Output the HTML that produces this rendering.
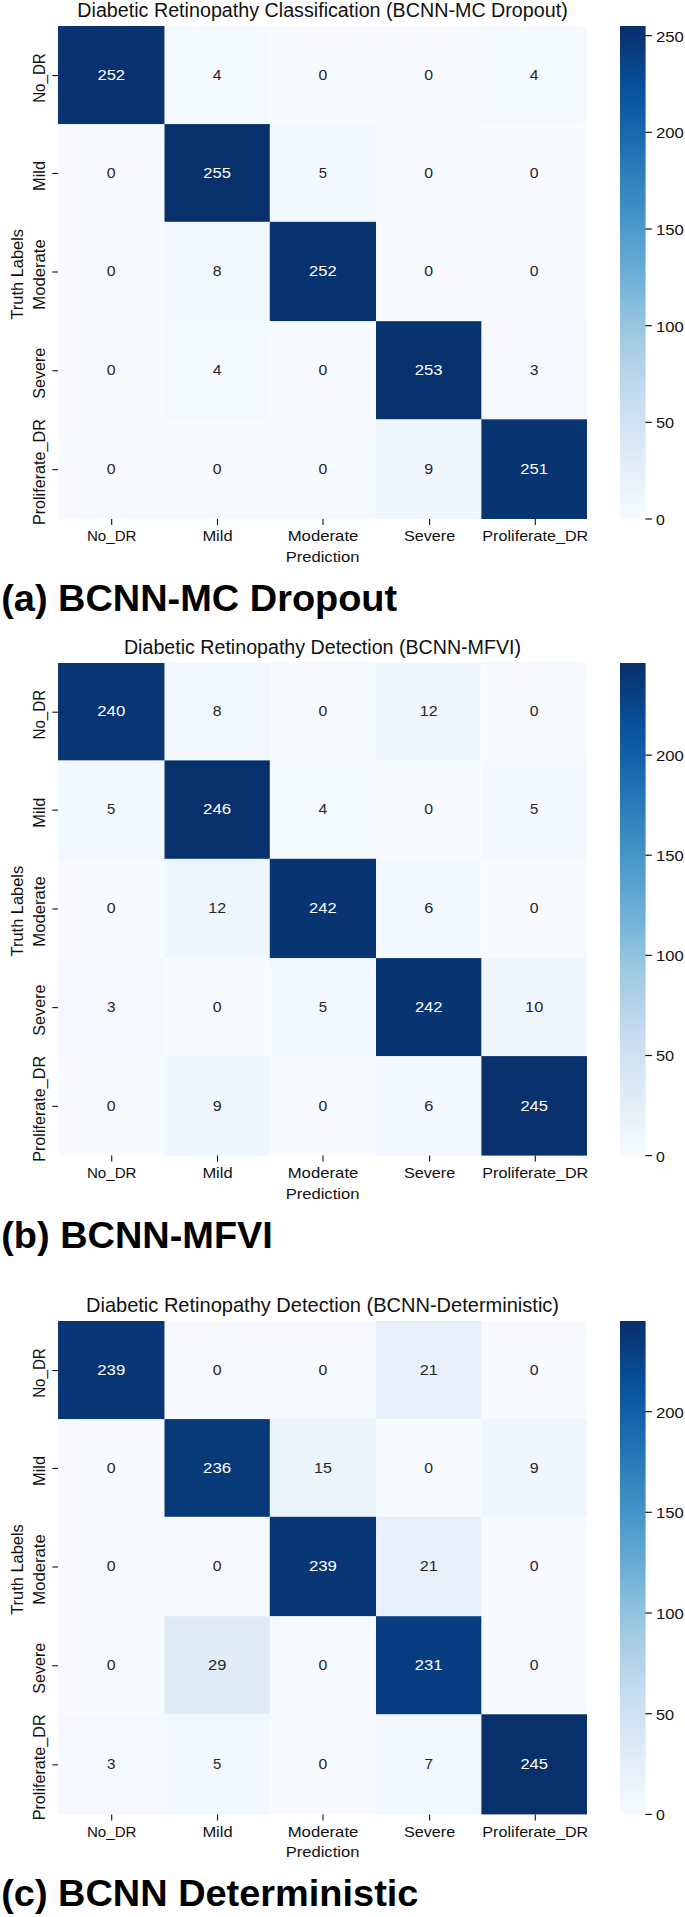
<!DOCTYPE html>
<html><head><meta charset="utf-8"><title>Confusion matrices</title>
<style>html,body{margin:0;padding:0;background:#fff;width:685px;height:1917px;overflow:hidden}svg{display:block}text{font-family:"Liberation Sans", sans-serif}</style>
</head><body>
<svg width="685" height="1917" viewBox="0 0 685 1917" font-family='"Liberation Sans", sans-serif'>
<defs><linearGradient id="cb0" x1="0" y1="0" x2="0" y2="1"><stop offset="0.0000" stop-color="#08306b"/><stop offset="0.0156" stop-color="#083370"/><stop offset="0.0312" stop-color="#083776"/><stop offset="0.0469" stop-color="#083b7c"/><stop offset="0.0625" stop-color="#084082"/><stop offset="0.0781" stop-color="#084488"/><stop offset="0.0938" stop-color="#08488e"/><stop offset="0.1094" stop-color="#084c95"/><stop offset="0.1250" stop-color="#08509b"/><stop offset="0.1406" stop-color="#0a549e"/><stop offset="0.1562" stop-color="#0e58a2"/><stop offset="0.1719" stop-color="#115ca5"/><stop offset="0.1875" stop-color="#1460a8"/><stop offset="0.2031" stop-color="#1764ab"/><stop offset="0.2188" stop-color="#1a68ae"/><stop offset="0.2344" stop-color="#1d6cb1"/><stop offset="0.2500" stop-color="#2070b4"/><stop offset="0.2656" stop-color="#2474b7"/><stop offset="0.2812" stop-color="#2979b9"/><stop offset="0.2969" stop-color="#2d7dbb"/><stop offset="0.3125" stop-color="#3181bd"/><stop offset="0.3281" stop-color="#3585bf"/><stop offset="0.3438" stop-color="#3989c1"/><stop offset="0.3594" stop-color="#3d8dc4"/><stop offset="0.3750" stop-color="#4191c6"/><stop offset="0.3906" stop-color="#4695c8"/><stop offset="0.4062" stop-color="#4b98ca"/><stop offset="0.4219" stop-color="#519ccc"/><stop offset="0.4375" stop-color="#56a0ce"/><stop offset="0.4531" stop-color="#5ba3d0"/><stop offset="0.4688" stop-color="#60a7d2"/><stop offset="0.4844" stop-color="#65aad4"/><stop offset="0.5000" stop-color="#6aaed6"/><stop offset="0.5156" stop-color="#71b1d7"/><stop offset="0.5312" stop-color="#77b5d9"/><stop offset="0.5469" stop-color="#7db8da"/><stop offset="0.5625" stop-color="#84bcdb"/><stop offset="0.5781" stop-color="#8abfdd"/><stop offset="0.5938" stop-color="#91c3de"/><stop offset="0.6094" stop-color="#97c6df"/><stop offset="0.6250" stop-color="#9dcae1"/><stop offset="0.6406" stop-color="#a3cce3"/><stop offset="0.6562" stop-color="#a8cee4"/><stop offset="0.6719" stop-color="#add0e6"/><stop offset="0.6875" stop-color="#b2d2e8"/><stop offset="0.7031" stop-color="#b7d4ea"/><stop offset="0.7188" stop-color="#bcd7eb"/><stop offset="0.7344" stop-color="#c1d9ed"/><stop offset="0.7500" stop-color="#c6dbef"/><stop offset="0.7656" stop-color="#c9ddf0"/><stop offset="0.7812" stop-color="#ccdff1"/><stop offset="0.7969" stop-color="#cfe1f2"/><stop offset="0.8125" stop-color="#d2e3f3"/><stop offset="0.8281" stop-color="#d5e5f4"/><stop offset="0.8438" stop-color="#d8e7f5"/><stop offset="0.8594" stop-color="#dbe9f6"/><stop offset="0.8750" stop-color="#deebf7"/><stop offset="0.8906" stop-color="#e1edf8"/><stop offset="0.9062" stop-color="#e4eff9"/><stop offset="0.9219" stop-color="#e7f1fa"/><stop offset="0.9375" stop-color="#eaf3fb"/><stop offset="0.9531" stop-color="#eef5fc"/><stop offset="0.9688" stop-color="#f1f7fd"/><stop offset="0.9844" stop-color="#f4f9fe"/><stop offset="1.0000" stop-color="#f7fbff"/></linearGradient><linearGradient id="cb1" x1="0" y1="0" x2="0" y2="1"><stop offset="0.0000" stop-color="#08306b"/><stop offset="0.0156" stop-color="#083370"/><stop offset="0.0312" stop-color="#083776"/><stop offset="0.0469" stop-color="#083b7c"/><stop offset="0.0625" stop-color="#084082"/><stop offset="0.0781" stop-color="#084488"/><stop offset="0.0938" stop-color="#08488e"/><stop offset="0.1094" stop-color="#084c95"/><stop offset="0.1250" stop-color="#08509b"/><stop offset="0.1406" stop-color="#0a549e"/><stop offset="0.1562" stop-color="#0e58a2"/><stop offset="0.1719" stop-color="#115ca5"/><stop offset="0.1875" stop-color="#1460a8"/><stop offset="0.2031" stop-color="#1764ab"/><stop offset="0.2188" stop-color="#1a68ae"/><stop offset="0.2344" stop-color="#1d6cb1"/><stop offset="0.2500" stop-color="#2070b4"/><stop offset="0.2656" stop-color="#2474b7"/><stop offset="0.2812" stop-color="#2979b9"/><stop offset="0.2969" stop-color="#2d7dbb"/><stop offset="0.3125" stop-color="#3181bd"/><stop offset="0.3281" stop-color="#3585bf"/><stop offset="0.3438" stop-color="#3989c1"/><stop offset="0.3594" stop-color="#3d8dc4"/><stop offset="0.3750" stop-color="#4191c6"/><stop offset="0.3906" stop-color="#4695c8"/><stop offset="0.4062" stop-color="#4b98ca"/><stop offset="0.4219" stop-color="#519ccc"/><stop offset="0.4375" stop-color="#56a0ce"/><stop offset="0.4531" stop-color="#5ba3d0"/><stop offset="0.4688" stop-color="#60a7d2"/><stop offset="0.4844" stop-color="#65aad4"/><stop offset="0.5000" stop-color="#6aaed6"/><stop offset="0.5156" stop-color="#71b1d7"/><stop offset="0.5312" stop-color="#77b5d9"/><stop offset="0.5469" stop-color="#7db8da"/><stop offset="0.5625" stop-color="#84bcdb"/><stop offset="0.5781" stop-color="#8abfdd"/><stop offset="0.5938" stop-color="#91c3de"/><stop offset="0.6094" stop-color="#97c6df"/><stop offset="0.6250" stop-color="#9dcae1"/><stop offset="0.6406" stop-color="#a3cce3"/><stop offset="0.6562" stop-color="#a8cee4"/><stop offset="0.6719" stop-color="#add0e6"/><stop offset="0.6875" stop-color="#b2d2e8"/><stop offset="0.7031" stop-color="#b7d4ea"/><stop offset="0.7188" stop-color="#bcd7eb"/><stop offset="0.7344" stop-color="#c1d9ed"/><stop offset="0.7500" stop-color="#c6dbef"/><stop offset="0.7656" stop-color="#c9ddf0"/><stop offset="0.7812" stop-color="#ccdff1"/><stop offset="0.7969" stop-color="#cfe1f2"/><stop offset="0.8125" stop-color="#d2e3f3"/><stop offset="0.8281" stop-color="#d5e5f4"/><stop offset="0.8438" stop-color="#d8e7f5"/><stop offset="0.8594" stop-color="#dbe9f6"/><stop offset="0.8750" stop-color="#deebf7"/><stop offset="0.8906" stop-color="#e1edf8"/><stop offset="0.9062" stop-color="#e4eff9"/><stop offset="0.9219" stop-color="#e7f1fa"/><stop offset="0.9375" stop-color="#eaf3fb"/><stop offset="0.9531" stop-color="#eef5fc"/><stop offset="0.9688" stop-color="#f1f7fd"/><stop offset="0.9844" stop-color="#f4f9fe"/><stop offset="1.0000" stop-color="#f7fbff"/></linearGradient><linearGradient id="cb2" x1="0" y1="0" x2="0" y2="1"><stop offset="0.0000" stop-color="#08306b"/><stop offset="0.0156" stop-color="#083370"/><stop offset="0.0312" stop-color="#083776"/><stop offset="0.0469" stop-color="#083b7c"/><stop offset="0.0625" stop-color="#084082"/><stop offset="0.0781" stop-color="#084488"/><stop offset="0.0938" stop-color="#08488e"/><stop offset="0.1094" stop-color="#084c95"/><stop offset="0.1250" stop-color="#08509b"/><stop offset="0.1406" stop-color="#0a549e"/><stop offset="0.1562" stop-color="#0e58a2"/><stop offset="0.1719" stop-color="#115ca5"/><stop offset="0.1875" stop-color="#1460a8"/><stop offset="0.2031" stop-color="#1764ab"/><stop offset="0.2188" stop-color="#1a68ae"/><stop offset="0.2344" stop-color="#1d6cb1"/><stop offset="0.2500" stop-color="#2070b4"/><stop offset="0.2656" stop-color="#2474b7"/><stop offset="0.2812" stop-color="#2979b9"/><stop offset="0.2969" stop-color="#2d7dbb"/><stop offset="0.3125" stop-color="#3181bd"/><stop offset="0.3281" stop-color="#3585bf"/><stop offset="0.3438" stop-color="#3989c1"/><stop offset="0.3594" stop-color="#3d8dc4"/><stop offset="0.3750" stop-color="#4191c6"/><stop offset="0.3906" stop-color="#4695c8"/><stop offset="0.4062" stop-color="#4b98ca"/><stop offset="0.4219" stop-color="#519ccc"/><stop offset="0.4375" stop-color="#56a0ce"/><stop offset="0.4531" stop-color="#5ba3d0"/><stop offset="0.4688" stop-color="#60a7d2"/><stop offset="0.4844" stop-color="#65aad4"/><stop offset="0.5000" stop-color="#6aaed6"/><stop offset="0.5156" stop-color="#71b1d7"/><stop offset="0.5312" stop-color="#77b5d9"/><stop offset="0.5469" stop-color="#7db8da"/><stop offset="0.5625" stop-color="#84bcdb"/><stop offset="0.5781" stop-color="#8abfdd"/><stop offset="0.5938" stop-color="#91c3de"/><stop offset="0.6094" stop-color="#97c6df"/><stop offset="0.6250" stop-color="#9dcae1"/><stop offset="0.6406" stop-color="#a3cce3"/><stop offset="0.6562" stop-color="#a8cee4"/><stop offset="0.6719" stop-color="#add0e6"/><stop offset="0.6875" stop-color="#b2d2e8"/><stop offset="0.7031" stop-color="#b7d4ea"/><stop offset="0.7188" stop-color="#bcd7eb"/><stop offset="0.7344" stop-color="#c1d9ed"/><stop offset="0.7500" stop-color="#c6dbef"/><stop offset="0.7656" stop-color="#c9ddf0"/><stop offset="0.7812" stop-color="#ccdff1"/><stop offset="0.7969" stop-color="#cfe1f2"/><stop offset="0.8125" stop-color="#d2e3f3"/><stop offset="0.8281" stop-color="#d5e5f4"/><stop offset="0.8438" stop-color="#d8e7f5"/><stop offset="0.8594" stop-color="#dbe9f6"/><stop offset="0.8750" stop-color="#deebf7"/><stop offset="0.8906" stop-color="#e1edf8"/><stop offset="0.9062" stop-color="#e4eff9"/><stop offset="0.9219" stop-color="#e7f1fa"/><stop offset="0.9375" stop-color="#eaf3fb"/><stop offset="0.9531" stop-color="#eef5fc"/><stop offset="0.9688" stop-color="#f1f7fd"/><stop offset="0.9844" stop-color="#f4f9fe"/><stop offset="1.0000" stop-color="#f7fbff"/></linearGradient></defs>
<rect width="685" height="1917" fill="#fff"/>
<text transform="translate(322.50,16.90) scale(1.0188,1)" text-anchor="middle" font-size="19.35" fill="#111111">Diabetic Retinopathy Classification (BCNN-MC Dropout)</text>
<rect x="58.00" y="26.00" width="106.90" height="98.50" fill="#083370"/>
<rect x="164.50" y="26.00" width="105.70" height="98.50" fill="#f4f9fe"/>
<rect x="269.80" y="26.00" width="106.60" height="98.50" fill="#f7fbff"/>
<rect x="376.00" y="26.00" width="105.80" height="98.50" fill="#f7fbff"/>
<rect x="481.40" y="26.00" width="105.60" height="98.50" fill="#f4f9fe"/>
<rect x="58.00" y="124.10" width="106.90" height="98.10" fill="#f7fbff"/>
<rect x="164.50" y="124.10" width="105.70" height="98.10" fill="#08306b"/>
<rect x="269.80" y="124.10" width="106.60" height="98.10" fill="#f3f8fe"/>
<rect x="376.00" y="124.10" width="105.80" height="98.10" fill="#f7fbff"/>
<rect x="481.40" y="124.10" width="105.60" height="98.10" fill="#f7fbff"/>
<rect x="58.00" y="221.80" width="106.90" height="99.80" fill="#f7fbff"/>
<rect x="164.50" y="221.80" width="105.70" height="99.80" fill="#f1f7fd"/>
<rect x="269.80" y="221.80" width="106.60" height="99.80" fill="#083370"/>
<rect x="376.00" y="221.80" width="105.80" height="99.80" fill="#f7fbff"/>
<rect x="481.40" y="221.80" width="105.60" height="99.80" fill="#f7fbff"/>
<rect x="58.00" y="321.20" width="106.90" height="98.50" fill="#f7fbff"/>
<rect x="164.50" y="321.20" width="105.70" height="98.50" fill="#f4f9fe"/>
<rect x="269.80" y="321.20" width="106.60" height="98.50" fill="#f7fbff"/>
<rect x="376.00" y="321.20" width="105.80" height="98.50" fill="#08326e"/>
<rect x="481.40" y="321.20" width="105.60" height="98.50" fill="#f5f9fe"/>
<rect x="58.00" y="419.30" width="106.90" height="99.70" fill="#f7fbff"/>
<rect x="164.50" y="419.30" width="105.70" height="99.70" fill="#f7fbff"/>
<rect x="269.80" y="419.30" width="106.60" height="99.70" fill="#f7fbff"/>
<rect x="376.00" y="419.30" width="105.80" height="99.70" fill="#f0f6fd"/>
<rect x="481.40" y="419.30" width="105.60" height="99.70" fill="#083471"/>
<text transform="translate(111.25,79.70) scale(1.0763,1)" text-anchor="middle" font-size="15.35" fill="#ffffff">252</text>
<text transform="translate(217.15,79.70) scale(1.0291,1)" text-anchor="middle" font-size="15.35" fill="#262626">4</text>
<text transform="translate(322.90,79.70) scale(1.0322,1)" text-anchor="middle" font-size="15.35" fill="#262626">0</text>
<text transform="translate(428.70,79.70) scale(1.0322,1)" text-anchor="middle" font-size="15.35" fill="#262626">0</text>
<text transform="translate(534.20,79.70) scale(1.0291,1)" text-anchor="middle" font-size="15.35" fill="#262626">4</text>
<text transform="translate(111.25,177.60) scale(1.0322,1)" text-anchor="middle" font-size="15.35" fill="#262626">0</text>
<text transform="translate(217.15,177.60) scale(1.0787,1)" text-anchor="middle" font-size="15.35" fill="#ffffff">255</text>
<text transform="translate(322.90,177.60) scale(0.9709,1)" text-anchor="middle" font-size="15.35" fill="#262626">5</text>
<text transform="translate(428.70,177.60) scale(1.0322,1)" text-anchor="middle" font-size="15.35" fill="#262626">0</text>
<text transform="translate(534.20,177.60) scale(1.0322,1)" text-anchor="middle" font-size="15.35" fill="#262626">0</text>
<text transform="translate(111.25,276.15) scale(1.0322,1)" text-anchor="middle" font-size="15.35" fill="#262626">0</text>
<text transform="translate(217.15,276.15) scale(1.0328,1)" text-anchor="middle" font-size="15.35" fill="#262626">8</text>
<text transform="translate(322.90,276.15) scale(1.0763,1)" text-anchor="middle" font-size="15.35" fill="#ffffff">252</text>
<text transform="translate(428.70,276.15) scale(1.0322,1)" text-anchor="middle" font-size="15.35" fill="#262626">0</text>
<text transform="translate(534.20,276.15) scale(1.0322,1)" text-anchor="middle" font-size="15.35" fill="#262626">0</text>
<text transform="translate(111.25,374.90) scale(1.0322,1)" text-anchor="middle" font-size="15.35" fill="#262626">0</text>
<text transform="translate(217.15,374.90) scale(1.0291,1)" text-anchor="middle" font-size="15.35" fill="#262626">4</text>
<text transform="translate(322.90,374.90) scale(1.0322,1)" text-anchor="middle" font-size="15.35" fill="#262626">0</text>
<text transform="translate(428.70,374.90) scale(1.0853,1)" text-anchor="middle" font-size="15.35" fill="#ffffff">253</text>
<text transform="translate(534.20,374.90) scale(0.9915,1)" text-anchor="middle" font-size="15.35" fill="#262626">3</text>
<text transform="translate(111.25,473.80) scale(1.0322,1)" text-anchor="middle" font-size="15.35" fill="#262626">0</text>
<text transform="translate(217.15,473.80) scale(1.0322,1)" text-anchor="middle" font-size="15.35" fill="#262626">0</text>
<text transform="translate(322.90,473.80) scale(1.0322,1)" text-anchor="middle" font-size="15.35" fill="#262626">0</text>
<text transform="translate(428.70,473.80) scale(1.0440,1)" text-anchor="middle" font-size="15.35" fill="#262626">9</text>
<text transform="translate(534.20,473.80) scale(1.0825,1)" text-anchor="middle" font-size="15.35" fill="#ffffff">251</text>
<line x1="52.3" y1="75.55" x2="58" y2="75.55" stroke="#111111" stroke-width="1.1"/>
<text transform="translate(45.30,78.05) rotate(-90) scale(0.9569,1)" text-anchor="middle" font-size="15.79" fill="#111111">No_DR</text>
<line x1="52.3" y1="173.45" x2="58" y2="173.45" stroke="#111111" stroke-width="1.1"/>
<text transform="translate(45.30,175.95) rotate(-90) scale(1.0442,1)" text-anchor="middle" font-size="15.79" fill="#111111">Mild</text>
<line x1="52.3" y1="272.00" x2="58" y2="272.00" stroke="#111111" stroke-width="1.1"/>
<text transform="translate(45.30,274.50) rotate(-90) scale(1.0584,1)" text-anchor="middle" font-size="15.79" fill="#111111">Moderate</text>
<line x1="52.3" y1="370.75" x2="58" y2="370.75" stroke="#111111" stroke-width="1.1"/>
<text transform="translate(45.30,373.25) rotate(-90) scale(1.0247,1)" text-anchor="middle" font-size="15.79" fill="#111111">Severe</text>
<line x1="52.3" y1="469.65" x2="58" y2="469.65" stroke="#111111" stroke-width="1.1"/>
<text transform="translate(45.30,472.15) rotate(-90) scale(1.0234,1)" text-anchor="middle" font-size="15.79" fill="#111111">Proliferate_DR</text>
<line x1="111.70" y1="519.0" x2="111.70" y2="525.0" stroke="#111111" stroke-width="1.1"/>
<text transform="translate(111.70,541.30) scale(0.9847,1)" text-anchor="middle" font-size="15.35" fill="#111111">No_DR</text>
<line x1="217.50" y1="519.0" x2="217.50" y2="525.0" stroke="#111111" stroke-width="1.1"/>
<text transform="translate(217.50,541.30) scale(1.0746,1)" text-anchor="middle" font-size="15.35" fill="#111111">Mild</text>
<line x1="323.00" y1="519.0" x2="323.00" y2="525.0" stroke="#111111" stroke-width="1.1"/>
<text transform="translate(323.00,541.30) scale(1.0893,1)" text-anchor="middle" font-size="15.35" fill="#111111">Moderate</text>
<line x1="429.60" y1="519.0" x2="429.60" y2="525.0" stroke="#111111" stroke-width="1.1"/>
<text transform="translate(429.60,541.30) scale(1.0545,1)" text-anchor="middle" font-size="15.35" fill="#111111">Severe</text>
<line x1="535.30" y1="519.0" x2="535.30" y2="525.0" stroke="#111111" stroke-width="1.1"/>
<text transform="translate(535.30,541.30) scale(1.0532,1)" text-anchor="middle" font-size="15.35" fill="#111111">Proliferate_DR</text>
<text transform="translate(322.50,561.90) scale(1.0804,1)" text-anchor="middle" font-size="15.35" fill="#111111">Prediction</text>
<text transform="translate(23.20,274.30) rotate(-90) scale(1.0401,1)" text-anchor="middle" font-size="15.79" fill="#111111">Truth Labels</text>
<rect x="620.0" y="26.0" width="25.60" height="493.0" fill="url(#cb0)"/>
<line x1="645.4" y1="519.00" x2="651.8000000000001" y2="519.00" stroke="#111111" stroke-width="1.2"/>
<text transform="translate(656.00,524.95) scale(1.0322,1)" text-anchor="start" font-size="15.35" fill="#111111">0</text>
<line x1="645.4" y1="422.33" x2="651.8000000000001" y2="422.33" stroke="#111111" stroke-width="1.2"/>
<text transform="translate(656.00,428.28) scale(1.0651,1)" text-anchor="start" font-size="15.35" fill="#111111">50</text>
<line x1="645.4" y1="325.67" x2="651.8000000000001" y2="325.67" stroke="#111111" stroke-width="1.2"/>
<text transform="translate(656.00,331.61) scale(1.0868,1)" text-anchor="start" font-size="15.35" fill="#111111">100</text>
<line x1="645.4" y1="229.00" x2="651.8000000000001" y2="229.00" stroke="#111111" stroke-width="1.2"/>
<text transform="translate(656.00,234.95) scale(1.0868,1)" text-anchor="start" font-size="15.35" fill="#111111">150</text>
<line x1="645.4" y1="132.33" x2="651.8000000000001" y2="132.33" stroke="#111111" stroke-width="1.2"/>
<text transform="translate(656.00,138.28) scale(1.0911,1)" text-anchor="start" font-size="15.35" fill="#111111">200</text>
<line x1="645.4" y1="35.67" x2="651.8000000000001" y2="35.67" stroke="#111111" stroke-width="1.2"/>
<text transform="translate(656.00,41.61) scale(1.0911,1)" text-anchor="start" font-size="15.35" fill="#111111">250</text>
<text transform="translate(1.2,611.0) scale(1.009,1)" font-size="37.6" font-weight="700" fill="#000">(a) BCNN-MC Dropout</text>
<text transform="translate(322.50,653.90) scale(1.0152,1)" text-anchor="middle" font-size="19.35" fill="#111111">Diabetic Retinopathy Detection (BCNN-MFVI)</text>
<rect x="58.00" y="663.00" width="106.90" height="97.80" fill="#083674"/>
<rect x="164.50" y="663.00" width="105.70" height="97.80" fill="#f1f7fd"/>
<rect x="269.80" y="663.00" width="106.60" height="97.80" fill="#f7fbff"/>
<rect x="376.00" y="663.00" width="105.80" height="97.80" fill="#eef5fc"/>
<rect x="481.40" y="663.00" width="105.60" height="97.80" fill="#f7fbff"/>
<rect x="58.00" y="760.40" width="106.90" height="98.80" fill="#f3f8fe"/>
<rect x="164.50" y="760.40" width="105.70" height="98.80" fill="#08306b"/>
<rect x="269.80" y="760.40" width="106.60" height="98.80" fill="#f4f9fe"/>
<rect x="376.00" y="760.40" width="105.80" height="98.80" fill="#f7fbff"/>
<rect x="481.40" y="760.40" width="105.60" height="98.80" fill="#f3f8fe"/>
<rect x="58.00" y="858.80" width="106.90" height="99.70" fill="#f7fbff"/>
<rect x="164.50" y="858.80" width="105.70" height="99.70" fill="#eef5fc"/>
<rect x="269.80" y="858.80" width="106.60" height="99.70" fill="#083471"/>
<rect x="376.00" y="858.80" width="105.80" height="99.70" fill="#f2f8fd"/>
<rect x="481.40" y="858.80" width="105.60" height="99.70" fill="#f7fbff"/>
<rect x="58.00" y="958.10" width="106.90" height="98.40" fill="#f5f9fe"/>
<rect x="164.50" y="958.10" width="105.70" height="98.40" fill="#f7fbff"/>
<rect x="269.80" y="958.10" width="106.60" height="98.40" fill="#f3f8fe"/>
<rect x="376.00" y="958.10" width="105.80" height="98.40" fill="#083471"/>
<rect x="481.40" y="958.10" width="105.60" height="98.40" fill="#eff6fc"/>
<rect x="58.00" y="1056.10" width="106.90" height="99.50" fill="#f7fbff"/>
<rect x="164.50" y="1056.10" width="105.70" height="99.50" fill="#f0f6fd"/>
<rect x="269.80" y="1056.10" width="106.60" height="99.50" fill="#f7fbff"/>
<rect x="376.00" y="1056.10" width="105.80" height="99.50" fill="#f2f8fd"/>
<rect x="481.40" y="1056.10" width="105.60" height="99.50" fill="#08316d"/>
<text transform="translate(111.25,716.35) scale(1.0911,1)" text-anchor="middle" font-size="15.35" fill="#ffffff">240</text>
<text transform="translate(217.15,716.35) scale(1.0328,1)" text-anchor="middle" font-size="15.35" fill="#262626">8</text>
<text transform="translate(322.90,716.35) scale(1.0322,1)" text-anchor="middle" font-size="15.35" fill="#262626">0</text>
<text transform="translate(428.70,716.35) scale(1.0448,1)" text-anchor="middle" font-size="15.35" fill="#262626">12</text>
<text transform="translate(534.20,716.35) scale(1.0322,1)" text-anchor="middle" font-size="15.35" fill="#262626">0</text>
<text transform="translate(111.25,814.25) scale(0.9709,1)" text-anchor="middle" font-size="15.35" fill="#262626">5</text>
<text transform="translate(217.15,814.25) scale(1.0976,1)" text-anchor="middle" font-size="15.35" fill="#ffffff">246</text>
<text transform="translate(322.90,814.25) scale(1.0291,1)" text-anchor="middle" font-size="15.35" fill="#262626">4</text>
<text transform="translate(428.70,814.25) scale(1.0322,1)" text-anchor="middle" font-size="15.35" fill="#262626">0</text>
<text transform="translate(534.20,814.25) scale(0.9709,1)" text-anchor="middle" font-size="15.35" fill="#262626">5</text>
<text transform="translate(111.25,913.10) scale(1.0322,1)" text-anchor="middle" font-size="15.35" fill="#262626">0</text>
<text transform="translate(217.15,913.10) scale(1.0448,1)" text-anchor="middle" font-size="15.35" fill="#262626">12</text>
<text transform="translate(322.90,913.10) scale(1.0763,1)" text-anchor="middle" font-size="15.35" fill="#ffffff">242</text>
<text transform="translate(428.70,913.10) scale(1.0659,1)" text-anchor="middle" font-size="15.35" fill="#262626">6</text>
<text transform="translate(534.20,913.10) scale(1.0322,1)" text-anchor="middle" font-size="15.35" fill="#262626">0</text>
<text transform="translate(111.25,1011.75) scale(0.9915,1)" text-anchor="middle" font-size="15.35" fill="#262626">3</text>
<text transform="translate(217.15,1011.75) scale(1.0322,1)" text-anchor="middle" font-size="15.35" fill="#262626">0</text>
<text transform="translate(322.90,1011.75) scale(0.9709,1)" text-anchor="middle" font-size="15.35" fill="#262626">5</text>
<text transform="translate(428.70,1011.75) scale(1.0763,1)" text-anchor="middle" font-size="15.35" fill="#ffffff">242</text>
<text transform="translate(534.20,1011.75) scale(1.0684,1)" text-anchor="middle" font-size="15.35" fill="#262626">10</text>
<text transform="translate(111.25,1110.50) scale(1.0322,1)" text-anchor="middle" font-size="15.35" fill="#262626">0</text>
<text transform="translate(217.15,1110.50) scale(1.0440,1)" text-anchor="middle" font-size="15.35" fill="#262626">9</text>
<text transform="translate(322.90,1110.50) scale(1.0322,1)" text-anchor="middle" font-size="15.35" fill="#262626">0</text>
<text transform="translate(428.70,1110.50) scale(1.0659,1)" text-anchor="middle" font-size="15.35" fill="#262626">6</text>
<text transform="translate(534.20,1110.50) scale(1.0787,1)" text-anchor="middle" font-size="15.35" fill="#ffffff">245</text>
<line x1="52.3" y1="712.20" x2="58" y2="712.20" stroke="#111111" stroke-width="1.1"/>
<text transform="translate(45.30,714.70) rotate(-90) scale(0.9569,1)" text-anchor="middle" font-size="15.79" fill="#111111">No_DR</text>
<line x1="52.3" y1="810.10" x2="58" y2="810.10" stroke="#111111" stroke-width="1.1"/>
<text transform="translate(45.30,812.60) rotate(-90) scale(1.0442,1)" text-anchor="middle" font-size="15.79" fill="#111111">Mild</text>
<line x1="52.3" y1="908.95" x2="58" y2="908.95" stroke="#111111" stroke-width="1.1"/>
<text transform="translate(45.30,911.45) rotate(-90) scale(1.0584,1)" text-anchor="middle" font-size="15.79" fill="#111111">Moderate</text>
<line x1="52.3" y1="1007.60" x2="58" y2="1007.60" stroke="#111111" stroke-width="1.1"/>
<text transform="translate(45.30,1010.10) rotate(-90) scale(1.0247,1)" text-anchor="middle" font-size="15.79" fill="#111111">Severe</text>
<line x1="52.3" y1="1106.35" x2="58" y2="1106.35" stroke="#111111" stroke-width="1.1"/>
<text transform="translate(45.30,1108.85) rotate(-90) scale(1.0234,1)" text-anchor="middle" font-size="15.79" fill="#111111">Proliferate_DR</text>
<line x1="111.70" y1="1155.6" x2="111.70" y2="1161.6" stroke="#111111" stroke-width="1.1"/>
<text transform="translate(111.70,1177.90) scale(0.9847,1)" text-anchor="middle" font-size="15.35" fill="#111111">No_DR</text>
<line x1="217.50" y1="1155.6" x2="217.50" y2="1161.6" stroke="#111111" stroke-width="1.1"/>
<text transform="translate(217.50,1177.90) scale(1.0746,1)" text-anchor="middle" font-size="15.35" fill="#111111">Mild</text>
<line x1="323.00" y1="1155.6" x2="323.00" y2="1161.6" stroke="#111111" stroke-width="1.1"/>
<text transform="translate(323.00,1177.90) scale(1.0893,1)" text-anchor="middle" font-size="15.35" fill="#111111">Moderate</text>
<line x1="429.60" y1="1155.6" x2="429.60" y2="1161.6" stroke="#111111" stroke-width="1.1"/>
<text transform="translate(429.60,1177.90) scale(1.0545,1)" text-anchor="middle" font-size="15.35" fill="#111111">Severe</text>
<line x1="535.30" y1="1155.6" x2="535.30" y2="1161.6" stroke="#111111" stroke-width="1.1"/>
<text transform="translate(535.30,1177.90) scale(1.0532,1)" text-anchor="middle" font-size="15.35" fill="#111111">Proliferate_DR</text>
<text transform="translate(322.50,1198.50) scale(1.0804,1)" text-anchor="middle" font-size="15.35" fill="#111111">Prediction</text>
<text transform="translate(23.20,911.10) rotate(-90) scale(1.0401,1)" text-anchor="middle" font-size="15.79" fill="#111111">Truth Labels</text>
<rect x="620.0" y="663.0" width="25.60" height="492.5999999999999" fill="url(#cb1)"/>
<line x1="645.4" y1="1155.60" x2="651.8000000000001" y2="1155.60" stroke="#111111" stroke-width="1.2"/>
<text transform="translate(656.00,1161.55) scale(1.0322,1)" text-anchor="start" font-size="15.35" fill="#111111">0</text>
<line x1="645.4" y1="1055.48" x2="651.8000000000001" y2="1055.48" stroke="#111111" stroke-width="1.2"/>
<text transform="translate(656.00,1061.43) scale(1.0651,1)" text-anchor="start" font-size="15.35" fill="#111111">50</text>
<line x1="645.4" y1="955.36" x2="651.8000000000001" y2="955.36" stroke="#111111" stroke-width="1.2"/>
<text transform="translate(656.00,961.30) scale(1.0868,1)" text-anchor="start" font-size="15.35" fill="#111111">100</text>
<line x1="645.4" y1="855.23" x2="651.8000000000001" y2="855.23" stroke="#111111" stroke-width="1.2"/>
<text transform="translate(656.00,861.18) scale(1.0868,1)" text-anchor="start" font-size="15.35" fill="#111111">150</text>
<line x1="645.4" y1="755.11" x2="651.8000000000001" y2="755.11" stroke="#111111" stroke-width="1.2"/>
<text transform="translate(656.00,761.06) scale(1.0911,1)" text-anchor="start" font-size="15.35" fill="#111111">200</text>
<text transform="translate(1.2,1247.6) scale(1.009,1)" font-size="37.6" font-weight="700" fill="#000">(b) BCNN-MFVI</text>
<text transform="translate(322.50,1311.90) scale(1.0355,1)" text-anchor="middle" font-size="19.35" fill="#111111">Diabetic Retinopathy Detection (BCNN-Deterministic)</text>
<rect x="58.00" y="1321.00" width="106.90" height="98.50" fill="#083674"/>
<rect x="164.50" y="1321.00" width="105.70" height="98.50" fill="#f7fbff"/>
<rect x="269.80" y="1321.00" width="106.60" height="98.50" fill="#f7fbff"/>
<rect x="376.00" y="1321.00" width="105.80" height="98.50" fill="#e7f0fa"/>
<rect x="481.40" y="1321.00" width="105.60" height="98.50" fill="#f7fbff"/>
<rect x="58.00" y="1419.10" width="106.90" height="98.10" fill="#f7fbff"/>
<rect x="164.50" y="1419.10" width="105.70" height="98.10" fill="#083979"/>
<rect x="269.80" y="1419.10" width="106.60" height="98.10" fill="#ebf3fb"/>
<rect x="376.00" y="1419.10" width="105.80" height="98.10" fill="#f7fbff"/>
<rect x="481.40" y="1419.10" width="105.60" height="98.10" fill="#f0f6fd"/>
<rect x="58.00" y="1516.80" width="106.90" height="99.80" fill="#f7fbff"/>
<rect x="164.50" y="1516.80" width="105.70" height="99.80" fill="#f7fbff"/>
<rect x="269.80" y="1516.80" width="106.60" height="99.80" fill="#083674"/>
<rect x="376.00" y="1516.80" width="105.80" height="99.80" fill="#e7f0fa"/>
<rect x="481.40" y="1516.80" width="105.60" height="99.80" fill="#f7fbff"/>
<rect x="58.00" y="1616.20" width="106.90" height="98.50" fill="#f7fbff"/>
<rect x="164.50" y="1616.20" width="105.70" height="98.50" fill="#dfecf7"/>
<rect x="269.80" y="1616.20" width="106.60" height="98.50" fill="#f7fbff"/>
<rect x="376.00" y="1616.20" width="105.80" height="98.50" fill="#083e81"/>
<rect x="481.40" y="1616.20" width="105.60" height="98.50" fill="#f7fbff"/>
<rect x="58.00" y="1714.30" width="106.90" height="100.10" fill="#f5f9fe"/>
<rect x="164.50" y="1714.30" width="105.70" height="100.10" fill="#f3f8fe"/>
<rect x="269.80" y="1714.30" width="106.60" height="100.10" fill="#f7fbff"/>
<rect x="376.00" y="1714.30" width="105.80" height="100.10" fill="#f2f7fd"/>
<rect x="481.40" y="1714.30" width="105.60" height="100.10" fill="#08306b"/>
<text transform="translate(111.25,1374.70) scale(1.0915,1)" text-anchor="middle" font-size="15.35" fill="#ffffff">239</text>
<text transform="translate(217.15,1374.70) scale(1.0322,1)" text-anchor="middle" font-size="15.35" fill="#262626">0</text>
<text transform="translate(322.90,1374.70) scale(1.0322,1)" text-anchor="middle" font-size="15.35" fill="#262626">0</text>
<text transform="translate(428.70,1374.70) scale(1.0622,1)" text-anchor="middle" font-size="15.35" fill="#262626">21</text>
<text transform="translate(534.20,1374.70) scale(1.0322,1)" text-anchor="middle" font-size="15.35" fill="#262626">0</text>
<text transform="translate(111.25,1472.60) scale(1.0322,1)" text-anchor="middle" font-size="15.35" fill="#262626">0</text>
<text transform="translate(217.15,1472.60) scale(1.0976,1)" text-anchor="middle" font-size="15.35" fill="#ffffff">236</text>
<text transform="translate(322.90,1472.60) scale(1.0489,1)" text-anchor="middle" font-size="15.35" fill="#262626">15</text>
<text transform="translate(428.70,1472.60) scale(1.0322,1)" text-anchor="middle" font-size="15.35" fill="#262626">0</text>
<text transform="translate(534.20,1472.60) scale(1.0440,1)" text-anchor="middle" font-size="15.35" fill="#262626">9</text>
<text transform="translate(111.25,1571.15) scale(1.0322,1)" text-anchor="middle" font-size="15.35" fill="#262626">0</text>
<text transform="translate(217.15,1571.15) scale(1.0322,1)" text-anchor="middle" font-size="15.35" fill="#262626">0</text>
<text transform="translate(322.90,1571.15) scale(1.0915,1)" text-anchor="middle" font-size="15.35" fill="#ffffff">239</text>
<text transform="translate(428.70,1571.15) scale(1.0622,1)" text-anchor="middle" font-size="15.35" fill="#262626">21</text>
<text transform="translate(534.20,1571.15) scale(1.0322,1)" text-anchor="middle" font-size="15.35" fill="#262626">0</text>
<text transform="translate(111.25,1669.90) scale(1.0322,1)" text-anchor="middle" font-size="15.35" fill="#262626">0</text>
<text transform="translate(217.15,1669.90) scale(1.0761,1)" text-anchor="middle" font-size="15.35" fill="#262626">29</text>
<text transform="translate(322.90,1669.90) scale(1.0322,1)" text-anchor="middle" font-size="15.35" fill="#262626">0</text>
<text transform="translate(428.70,1669.90) scale(1.0825,1)" text-anchor="middle" font-size="15.35" fill="#ffffff">231</text>
<text transform="translate(534.20,1669.90) scale(1.0322,1)" text-anchor="middle" font-size="15.35" fill="#262626">0</text>
<text transform="translate(111.25,1769.00) scale(0.9915,1)" text-anchor="middle" font-size="15.35" fill="#262626">3</text>
<text transform="translate(217.15,1769.00) scale(0.9709,1)" text-anchor="middle" font-size="15.35" fill="#262626">5</text>
<text transform="translate(322.90,1769.00) scale(1.0322,1)" text-anchor="middle" font-size="15.35" fill="#262626">0</text>
<text transform="translate(428.70,1769.00) scale(1.0029,1)" text-anchor="middle" font-size="15.35" fill="#262626">7</text>
<text transform="translate(534.20,1769.00) scale(1.0787,1)" text-anchor="middle" font-size="15.35" fill="#ffffff">245</text>
<line x1="52.3" y1="1370.55" x2="58" y2="1370.55" stroke="#111111" stroke-width="1.1"/>
<text transform="translate(45.30,1373.05) rotate(-90) scale(0.9569,1)" text-anchor="middle" font-size="15.79" fill="#111111">No_DR</text>
<line x1="52.3" y1="1468.45" x2="58" y2="1468.45" stroke="#111111" stroke-width="1.1"/>
<text transform="translate(45.30,1470.95) rotate(-90) scale(1.0442,1)" text-anchor="middle" font-size="15.79" fill="#111111">Mild</text>
<line x1="52.3" y1="1567.00" x2="58" y2="1567.00" stroke="#111111" stroke-width="1.1"/>
<text transform="translate(45.30,1569.50) rotate(-90) scale(1.0584,1)" text-anchor="middle" font-size="15.79" fill="#111111">Moderate</text>
<line x1="52.3" y1="1665.75" x2="58" y2="1665.75" stroke="#111111" stroke-width="1.1"/>
<text transform="translate(45.30,1668.25) rotate(-90) scale(1.0247,1)" text-anchor="middle" font-size="15.79" fill="#111111">Severe</text>
<line x1="52.3" y1="1764.85" x2="58" y2="1764.85" stroke="#111111" stroke-width="1.1"/>
<text transform="translate(45.30,1767.35) rotate(-90) scale(1.0234,1)" text-anchor="middle" font-size="15.79" fill="#111111">Proliferate_DR</text>
<line x1="111.70" y1="1814.4" x2="111.70" y2="1820.4" stroke="#111111" stroke-width="1.1"/>
<text transform="translate(111.70,1836.70) scale(0.9847,1)" text-anchor="middle" font-size="15.35" fill="#111111">No_DR</text>
<line x1="217.50" y1="1814.4" x2="217.50" y2="1820.4" stroke="#111111" stroke-width="1.1"/>
<text transform="translate(217.50,1836.70) scale(1.0746,1)" text-anchor="middle" font-size="15.35" fill="#111111">Mild</text>
<line x1="323.00" y1="1814.4" x2="323.00" y2="1820.4" stroke="#111111" stroke-width="1.1"/>
<text transform="translate(323.00,1836.70) scale(1.0893,1)" text-anchor="middle" font-size="15.35" fill="#111111">Moderate</text>
<line x1="429.60" y1="1814.4" x2="429.60" y2="1820.4" stroke="#111111" stroke-width="1.1"/>
<text transform="translate(429.60,1836.70) scale(1.0545,1)" text-anchor="middle" font-size="15.35" fill="#111111">Severe</text>
<line x1="535.30" y1="1814.4" x2="535.30" y2="1820.4" stroke="#111111" stroke-width="1.1"/>
<text transform="translate(535.30,1836.70) scale(1.0532,1)" text-anchor="middle" font-size="15.35" fill="#111111">Proliferate_DR</text>
<text transform="translate(322.50,1857.30) scale(1.0804,1)" text-anchor="middle" font-size="15.35" fill="#111111">Prediction</text>
<text transform="translate(23.20,1569.50) rotate(-90) scale(1.0401,1)" text-anchor="middle" font-size="15.79" fill="#111111">Truth Labels</text>
<rect x="620.0" y="1321.0" width="25.60" height="493.4000000000001" fill="url(#cb2)"/>
<line x1="645.4" y1="1814.40" x2="651.8000000000001" y2="1814.40" stroke="#111111" stroke-width="1.2"/>
<text transform="translate(656.00,1820.35) scale(1.0322,1)" text-anchor="start" font-size="15.35" fill="#111111">0</text>
<line x1="645.4" y1="1713.71" x2="651.8000000000001" y2="1713.71" stroke="#111111" stroke-width="1.2"/>
<text transform="translate(656.00,1719.65) scale(1.0651,1)" text-anchor="start" font-size="15.35" fill="#111111">50</text>
<line x1="645.4" y1="1613.01" x2="651.8000000000001" y2="1613.01" stroke="#111111" stroke-width="1.2"/>
<text transform="translate(656.00,1618.96) scale(1.0868,1)" text-anchor="start" font-size="15.35" fill="#111111">100</text>
<line x1="645.4" y1="1512.32" x2="651.8000000000001" y2="1512.32" stroke="#111111" stroke-width="1.2"/>
<text transform="translate(656.00,1518.27) scale(1.0868,1)" text-anchor="start" font-size="15.35" fill="#111111">150</text>
<line x1="645.4" y1="1411.62" x2="651.8000000000001" y2="1411.62" stroke="#111111" stroke-width="1.2"/>
<text transform="translate(656.00,1417.57) scale(1.0911,1)" text-anchor="start" font-size="15.35" fill="#111111">200</text>
<text transform="translate(1.2,1906.4) scale(1.009,1)" font-size="37.6" font-weight="700" fill="#000">(c) BCNN Deterministic</text>
</svg>
</body></html>
